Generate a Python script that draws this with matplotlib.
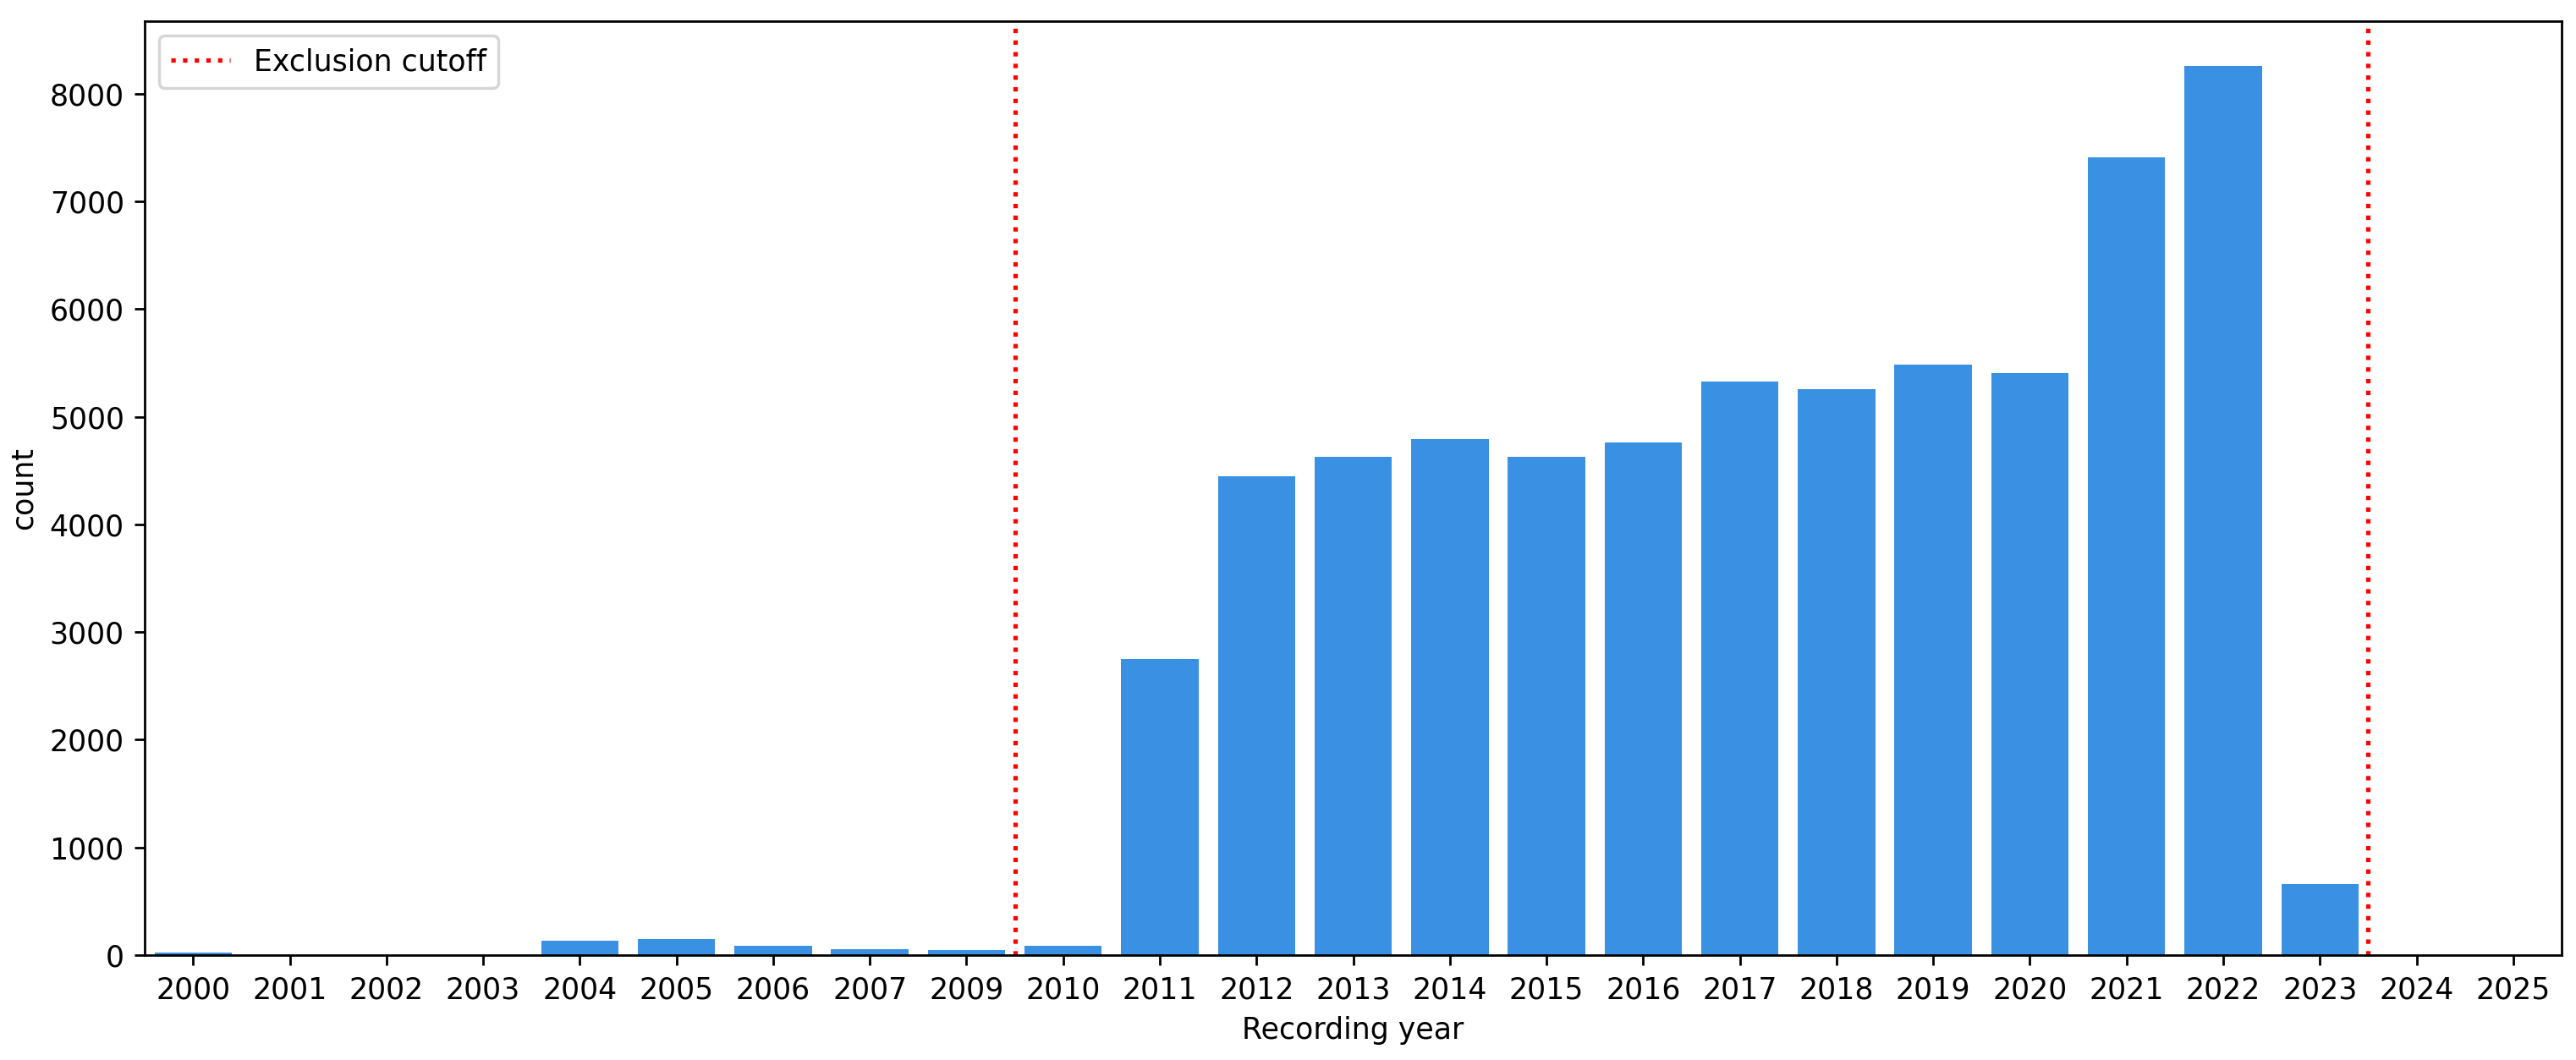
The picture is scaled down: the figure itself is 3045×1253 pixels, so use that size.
import matplotlib
matplotlib.use("Agg")
import matplotlib.pyplot as plt
import numpy as np

years = ["2000", "2001", "2002", "2003", "2004", "2005", "2006", "2007", "2009",
         "2010", "2011", "2012", "2013", "2014", "2015", "2016", "2017", "2018",
         "2019", "2020", "2021", "2022", "2023", "2024", "2025"]
counts = [25, 1, 1, 1, 135, 145, 88, 58, 50,
          88, 2748, 4443, 4626, 4794, 4626, 4763, 5328, 5252,
          5481, 5405, 7405, 8260, 656, 1, 1]
cutoff_after = ["2009", "2023"]

DPI = 250
fig, ax = plt.subplots(figsize=(3045 / DPI, 1253 / DPI), dpi=DPI)
fig.subplots_adjust(left=0.0562, right=0.9944, top=0.980, bottom=0.099)

x = np.arange(len(years))
ax.bar(x, counts, width=0.8, color="#3a90e2")
ax.set_xticks(x)
ax.set_xticklabels(years)
ax.set_xlim(-0.5, len(years) - 0.5)

for i, yr in enumerate(cutoff_after):
    pos = years.index(yr) + 0.5
    ax.axvline(pos, color="red", linestyle=":", linewidth=1.5,
               label="Exclusion cutoff" if i == 0 else None)

ax.set_xlabel("Recording year")
ax.set_ylabel("count")
ax.legend(loc="upper left")
fig.savefig("out.png", dpi=DPI)
